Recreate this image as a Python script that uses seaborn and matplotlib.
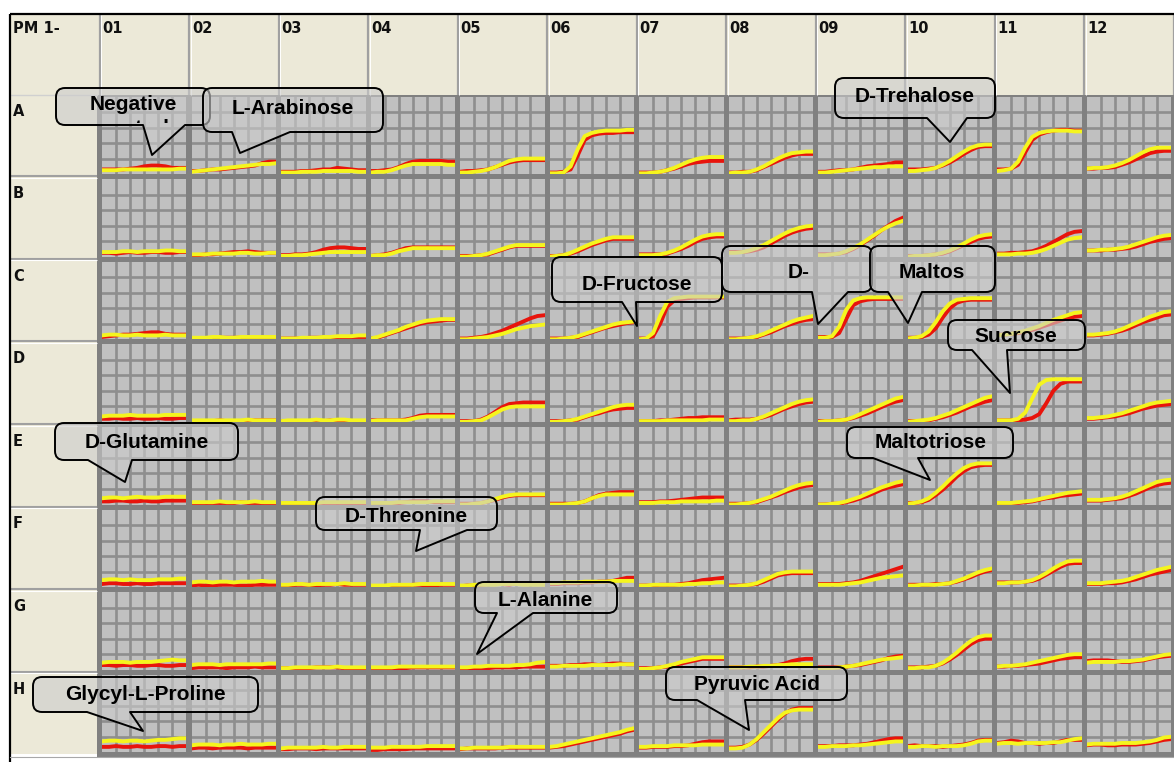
import matplotlib
matplotlib.use("Agg")
import matplotlib.pyplot as plt
import seaborn as sns
import pandas as pd
from matplotlib.path import Path
from matplotlib.patches import PathPatch, Rectangle

# ---------------- data ----------------
ROW_LABELS = list("ABCDEFGH")
COL_LABELS = ["01", "02", "03", "04", "05", "06", "07", "08", "09", "10", "11", "12"]
CORNER_LABEL = "PM 1-"
TIME = [0, 0.5, 1, 1.5, 2, 2.5, 3, 3.5, 4, 4.5, 5, 5.5, 6]

RED_A = [
    [0.30,0.30,0.30,0.30,0.35,0.40,0.50,0.55,0.55,0.50,0.40,0.40,0.40],
    [0.20,0.20,0.25,0.30,0.30,0.35,0.40,0.45,0.50,0.55,0.70,0.80,0.80],
    [0.15,0.15,0.15,0.20,0.20,0.25,0.30,0.30,0.40,0.35,0.30,0.25,0.25],
    [0.20,0.20,0.25,0.30,0.45,0.65,0.80,0.85,0.85,0.85,0.85,0.80,0.80],
    [0.15,0.20,0.20,0.25,0.30,0.45,0.60,0.75,0.85,0.90,0.90,0.90,0.90],
    [0.10,0.10,0.15,0.30,1.20,2.20,2.50,2.60,2.65,2.65,2.70,2.70,2.70],
    [0.10,0.10,0.10,0.15,0.25,0.35,0.50,0.65,0.75,0.80,0.85,0.85,0.85],
    [0.10,0.10,0.15,0.15,0.25,0.45,0.65,0.85,1.05,1.20,1.30,1.30,1.30],
    [0.15,0.15,0.20,0.25,0.25,0.30,0.40,0.50,0.55,0.60,0.65,0.75,0.75],
    [0.30,0.30,0.30,0.35,0.40,0.55,0.75,1.00,1.30,1.55,1.75,1.80,1.80],
    [0.30,0.30,0.35,0.60,1.40,2.20,2.55,2.70,2.80,2.85,2.85,2.80,2.80],
    [0.35,0.35,0.40,0.40,0.45,0.60,0.75,0.95,1.15,1.35,1.45,1.50,1.50],
]
YEL_A = [
    [0.25,0.25,0.25,0.30,0.30,0.30,0.30,0.30,0.30,0.30,0.30,0.35,0.35],
    [0.15,0.20,0.25,0.30,0.35,0.40,0.45,0.50,0.55,0.60,0.65,0.65,0.70],
    [0.10,0.10,0.10,0.15,0.15,0.15,0.20,0.20,0.20,0.20,0.20,0.15,0.15],
    [0.10,0.15,0.15,0.25,0.40,0.55,0.65,0.65,0.65,0.65,0.65,0.60,0.60],
    [0.10,0.10,0.15,0.20,0.30,0.45,0.65,0.85,0.95,1.00,1.00,1.00,1.00],
    [0.05,0.05,0.10,0.50,1.60,2.45,2.65,2.75,2.80,2.80,2.80,2.85,2.85],
    [0.05,0.05,0.10,0.15,0.25,0.40,0.60,0.80,0.95,1.05,1.10,1.10,1.10],
    [0.05,0.10,0.10,0.15,0.30,0.50,0.75,1.00,1.20,1.35,1.40,1.45,1.45],
    [0.10,0.10,0.15,0.20,0.25,0.30,0.35,0.40,0.45,0.45,0.50,0.50,0.50],
    [0.20,0.20,0.25,0.30,0.40,0.60,0.85,1.15,1.45,1.70,1.85,1.90,1.90],
    [0.20,0.25,0.35,0.80,1.70,2.40,2.65,2.75,2.80,2.80,2.80,2.75,2.75],
    [0.35,0.40,0.40,0.45,0.55,0.70,0.90,1.15,1.40,1.60,1.70,1.70,1.70],
]
RED_B = [
    [0.25,0.25,0.20,0.25,0.30,0.25,0.25,0.30,0.30,0.25,0.25,0.30,0.30],
    [0.10,0.10,0.15,0.15,0.20,0.25,0.30,0.30,0.35,0.30,0.25,0.25,0.25],
    [0.10,0.10,0.15,0.15,0.20,0.30,0.45,0.55,0.60,0.60,0.55,0.50,0.50],
    [0.05,0.10,0.15,0.25,0.40,0.55,0.60,0.60,0.60,0.60,0.60,0.60,0.60],
    [0.05,0.05,0.05,0.10,0.15,0.30,0.45,0.60,0.70,0.70,0.70,0.70,0.70],
    [0.05,0.05,0.10,0.20,0.35,0.55,0.75,0.90,1.05,1.15,1.15,1.15,1.15],
    [0.15,0.15,0.15,0.15,0.20,0.35,0.50,0.70,0.95,1.15,1.25,1.30,1.30],
    [0.30,0.30,0.30,0.35,0.45,0.60,0.85,1.10,1.35,1.55,1.70,1.80,1.85],
    [0.15,0.15,0.15,0.20,0.30,0.50,0.75,1.05,1.35,1.70,2.00,2.30,2.50],
    [0.05,0.05,0.05,0.10,0.15,0.20,0.35,0.55,0.75,0.95,1.15,1.25,1.30],
    [0.20,0.20,0.25,0.25,0.30,0.35,0.50,0.70,0.95,1.20,1.45,1.60,1.65],
    [0.40,0.40,0.40,0.45,0.45,0.50,0.55,0.65,0.80,0.95,1.05,1.15,1.20],
]
YEL_B = [
    [0.30,0.30,0.30,0.35,0.35,0.30,0.35,0.35,0.35,0.40,0.40,0.35,0.35],
    [0.15,0.15,0.15,0.20,0.20,0.20,0.20,0.25,0.25,0.20,0.20,0.25,0.25],
    [0.05,0.05,0.10,0.10,0.15,0.20,0.25,0.30,0.30,0.30,0.30,0.30,0.30],
    [0.05,0.10,0.10,0.20,0.35,0.45,0.55,0.55,0.55,0.55,0.55,0.55,0.55],
    [0.00,0.00,0.05,0.10,0.20,0.35,0.50,0.65,0.75,0.75,0.75,0.75,0.75],
    [0.00,0.05,0.10,0.25,0.45,0.65,0.85,1.00,1.15,1.25,1.25,1.25,1.25],
    [0.10,0.10,0.10,0.15,0.25,0.40,0.60,0.85,1.10,1.30,1.40,1.45,1.45],
    [0.25,0.25,0.30,0.40,0.55,0.75,1.00,1.25,1.50,1.70,1.85,1.95,2.00],
    [0.10,0.10,0.15,0.20,0.35,0.55,0.80,1.10,1.40,1.70,1.95,2.15,2.30],
    [0.00,0.05,0.05,0.10,0.15,0.25,0.40,0.60,0.85,1.10,1.30,1.40,1.45],
    [0.15,0.15,0.15,0.20,0.20,0.25,0.35,0.50,0.70,0.90,1.10,1.20,1.25],
    [0.40,0.40,0.45,0.45,0.50,0.55,0.65,0.80,0.95,1.10,1.25,1.35,1.40],
]
RED_C = [
    [0.15,0.20,0.25,0.30,0.30,0.35,0.40,0.45,0.45,0.35,0.30,0.30,0.30],
    [0.05,0.05,0.05,0.05,0.10,0.10,0.10,0.10,0.05,0.05,0.10,0.10,0.10],
    [0.05,0.05,0.05,0.05,0.10,0.10,0.10,0.10,0.15,0.15,0.15,0.15,0.15],
    [0.05,0.10,0.25,0.40,0.55,0.70,0.85,1.00,1.10,1.15,1.20,1.25,1.25],
    [0.05,0.05,0.10,0.15,0.25,0.40,0.55,0.75,0.95,1.15,1.35,1.50,1.55],
    [0.05,0.05,0.05,0.10,0.15,0.30,0.45,0.60,0.75,0.85,0.95,1.05,1.10],
    [0.05,0.05,0.20,1.00,2.10,2.50,2.60,2.65,2.70,2.70,2.70,2.70,2.70],
    [0.05,0.05,0.05,0.10,0.15,0.30,0.45,0.65,0.85,1.00,1.15,1.25,1.30],
    [0.15,0.15,0.15,0.40,1.30,2.20,2.45,2.55,2.60,2.60,2.60,2.60,2.60],
    [0.10,0.10,0.15,0.30,0.70,1.40,2.00,2.35,2.50,2.55,2.55,2.55,2.55],
    [0.30,0.30,0.35,0.40,0.50,0.60,0.75,0.90,1.05,1.20,1.35,1.45,1.50],
    [0.25,0.25,0.30,0.35,0.45,0.55,0.70,0.90,1.10,1.25,1.40,1.55,1.60],
]
YEL_C = [
    [0.25,0.30,0.30,0.25,0.25,0.30,0.25,0.25,0.25,0.30,0.25,0.25,0.25],
    [0.10,0.10,0.10,0.15,0.15,0.10,0.10,0.15,0.15,0.15,0.15,0.15,0.15],
    [0.05,0.05,0.05,0.10,0.10,0.10,0.15,0.15,0.20,0.20,0.20,0.25,0.25],
    [0.05,0.15,0.30,0.45,0.60,0.80,0.95,1.10,1.20,1.25,1.30,1.30,1.30],
    [0.00,0.00,0.05,0.10,0.15,0.25,0.35,0.50,0.65,0.75,0.85,0.90,0.95],
    [0.00,0.00,0.05,0.10,0.20,0.35,0.50,0.65,0.80,0.95,1.05,1.10,1.15],
    [0.00,0.05,0.40,1.50,2.40,2.65,2.70,2.75,2.75,2.75,2.75,2.75,2.75],
    [0.00,0.00,0.05,0.10,0.20,0.35,0.55,0.75,0.95,1.15,1.30,1.40,1.50],
    [0.10,0.10,0.20,0.80,1.90,2.50,2.65,2.70,2.70,2.70,2.70,2.70,2.70],
    [0.05,0.10,0.20,0.50,1.10,1.80,2.30,2.55,2.60,2.65,2.65,2.65,2.65],
    [0.25,0.30,0.35,0.45,0.55,0.70,0.85,1.05,1.25,1.40,1.55,1.70,1.75],
    [0.30,0.30,0.35,0.40,0.50,0.65,0.85,1.05,1.25,1.45,1.60,1.75,1.80],
]
RED_D = [
    [0.20,0.20,0.25,0.20,0.20,0.25,0.20,0.20,0.25,0.20,0.20,0.25,0.25],
    [0.05,0.05,0.05,0.05,0.10,0.05,0.05,0.05,0.10,0.10,0.10,0.10,0.10],
    [0.05,0.05,0.05,0.05,0.05,0.05,0.05,0.10,0.05,0.05,0.05,0.05,0.05],
    [0.10,0.10,0.10,0.10,0.10,0.15,0.25,0.40,0.45,0.45,0.45,0.45,0.45],
    [0.05,0.05,0.05,0.15,0.35,0.65,0.95,1.15,1.20,1.25,1.25,1.25,1.25],
    [0.05,0.05,0.05,0.10,0.15,0.30,0.45,0.55,0.70,0.80,0.85,0.90,0.90],
    [0.05,0.05,0.05,0.10,0.10,0.15,0.20,0.25,0.25,0.30,0.30,0.30,0.30],
    [0.10,0.15,0.15,0.15,0.20,0.30,0.45,0.65,0.85,1.00,1.15,1.25,1.30],
    [0.05,0.05,0.05,0.10,0.15,0.25,0.40,0.55,0.75,0.95,1.15,1.30,1.40],
    [0.05,0.05,0.05,0.10,0.20,0.30,0.45,0.60,0.80,1.00,1.15,1.30,1.40],
    [0.10,0.10,0.10,0.10,0.15,0.25,0.50,1.20,2.00,2.45,2.60,2.60,2.60],
    [0.20,0.20,0.25,0.30,0.35,0.45,0.55,0.70,0.85,0.95,1.05,1.10,1.15],
]
YEL_D = [
    [0.35,0.40,0.40,0.40,0.45,0.40,0.40,0.40,0.40,0.45,0.45,0.45,0.45],
    [0.10,0.10,0.10,0.10,0.10,0.10,0.10,0.10,0.15,0.10,0.10,0.10,0.10],
    [0.05,0.10,0.10,0.10,0.10,0.15,0.10,0.10,0.15,0.15,0.10,0.10,0.10],
    [0.05,0.10,0.10,0.10,0.10,0.10,0.20,0.30,0.35,0.35,0.35,0.35,0.35],
    [0.00,0.00,0.05,0.10,0.30,0.55,0.80,0.95,1.00,1.00,1.00,1.00,1.00],
    [0.00,0.00,0.05,0.10,0.20,0.35,0.50,0.65,0.80,0.95,1.05,1.10,1.10],
    [0.05,0.05,0.05,0.05,0.10,0.10,0.10,0.10,0.10,0.10,0.15,0.15,0.15],
    [0.05,0.05,0.10,0.10,0.20,0.35,0.55,0.75,0.95,1.15,1.30,1.40,1.45],
    [0.00,0.05,0.05,0.10,0.15,0.30,0.50,0.70,0.90,1.10,1.30,1.50,1.60],
    [0.00,0.05,0.10,0.15,0.25,0.40,0.55,0.75,0.95,1.15,1.35,1.55,1.65],
    [0.10,0.10,0.10,0.20,0.60,1.50,2.40,2.70,2.75,2.75,2.75,2.75,2.75],
    [0.25,0.25,0.30,0.35,0.45,0.55,0.70,0.85,1.00,1.15,1.25,1.30,1.35],
]
RED_E = [
    [0.20,0.20,0.25,0.25,0.20,0.20,0.25,0.20,0.20,0.25,0.25,0.25,0.25],
    [0.10,0.10,0.10,0.10,0.10,0.10,0.10,0.15,0.10,0.10,0.10,0.10,0.10],
    [0.05,0.05,0.05,0.05,0.05,0.10,0.10,0.10,0.10,0.10,0.10,0.10,0.10],
    [0.05,0.05,0.10,0.10,0.10,0.15,0.20,0.20,0.20,0.15,0.15,0.15,0.15],
    [0.05,0.05,0.05,0.10,0.20,0.30,0.45,0.55,0.60,0.60,0.60,0.60,0.60],
    [0.05,0.05,0.05,0.05,0.10,0.20,0.40,0.60,0.70,0.75,0.80,0.80,0.80],
    [0.15,0.15,0.15,0.20,0.20,0.25,0.30,0.35,0.40,0.45,0.45,0.45,0.45],
    [0.05,0.05,0.05,0.10,0.15,0.30,0.45,0.60,0.80,0.95,1.10,1.20,1.25],
    [0.00,0.00,0.05,0.05,0.15,0.25,0.40,0.55,0.75,0.95,1.10,1.20,1.30],
    [0.10,0.10,0.15,0.30,0.60,0.95,1.35,1.80,2.15,2.40,2.50,2.55,2.55],
    [0.05,0.05,0.10,0.10,0.15,0.20,0.30,0.40,0.45,0.55,0.60,0.65,0.70],
    [0.25,0.25,0.25,0.30,0.35,0.40,0.55,0.70,0.90,1.10,1.25,1.35,1.40],
]
YEL_E = [
    [0.40,0.45,0.45,0.40,0.45,0.50,0.45,0.45,0.45,0.50,0.50,0.50,0.50],
    [0.15,0.15,0.15,0.15,0.20,0.15,0.15,0.15,0.15,0.20,0.15,0.15,0.15],
    [0.10,0.10,0.10,0.10,0.10,0.10,0.15,0.15,0.15,0.15,0.15,0.15,0.15],
    [0.10,0.10,0.10,0.10,0.15,0.15,0.15,0.15,0.15,0.20,0.20,0.20,0.20],
    [0.00,0.00,0.05,0.10,0.20,0.35,0.50,0.60,0.65,0.65,0.65,0.65,0.65],
    [0.00,0.00,0.00,0.05,0.10,0.20,0.40,0.55,0.65,0.65,0.65,0.65,0.65],
    [0.10,0.10,0.10,0.15,0.15,0.15,0.20,0.20,0.20,0.20,0.20,0.25,0.25],
    [0.00,0.00,0.05,0.10,0.20,0.35,0.50,0.70,0.90,1.10,1.25,1.35,1.40],
    [0.00,0.00,0.05,0.10,0.20,0.35,0.50,0.70,0.90,1.10,1.25,1.40,1.50],
    [0.05,0.10,0.20,0.40,0.75,1.15,1.60,2.00,2.35,2.55,2.65,2.65,2.65],
    [0.10,0.10,0.10,0.15,0.20,0.25,0.35,0.45,0.55,0.65,0.75,0.80,0.85],
    [0.30,0.30,0.30,0.35,0.40,0.50,0.65,0.85,1.05,1.25,1.45,1.55,1.60],
]
RED_F = [
    [0.20,0.25,0.25,0.20,0.20,0.25,0.20,0.20,0.25,0.25,0.25,0.25,0.25],
    [0.10,0.15,0.10,0.10,0.15,0.15,0.15,0.10,0.10,0.15,0.15,0.15,0.15],
    [0.10,0.10,0.15,0.15,0.15,0.10,0.15,0.15,0.20,0.15,0.15,0.15,0.15],
    [0.05,0.05,0.05,0.10,0.10,0.10,0.15,0.15,0.10,0.10,0.15,0.15,0.15],
    [0.05,0.10,0.10,0.15,0.20,0.25,0.20,0.15,0.25,0.25,0.20,0.20,0.20],
    [0.20,0.20,0.25,0.25,0.25,0.30,0.30,0.35,0.35,0.40,0.50,0.60,0.60],
    [0.10,0.10,0.10,0.15,0.15,0.15,0.20,0.25,0.35,0.45,0.50,0.55,0.60],
    [0.10,0.10,0.10,0.15,0.20,0.35,0.55,0.75,0.85,0.90,0.90,0.90,0.90],
    [0.20,0.20,0.20,0.20,0.25,0.30,0.40,0.55,0.70,0.85,1.00,1.15,1.30],
    [0.15,0.15,0.15,0.15,0.20,0.20,0.25,0.35,0.50,0.65,0.85,1.00,1.10],
    [0.30,0.30,0.30,0.30,0.35,0.40,0.55,0.80,1.05,1.30,1.50,1.55,1.55],
    [0.20,0.20,0.20,0.25,0.25,0.30,0.40,0.50,0.65,0.80,0.90,1.00,1.10],
]
YEL_F = [
    [0.45,0.50,0.50,0.45,0.50,0.45,0.45,0.45,0.50,0.50,0.50,0.55,0.55],
    [0.30,0.35,0.35,0.30,0.35,0.35,0.30,0.35,0.35,0.35,0.40,0.35,0.35],
    [0.15,0.15,0.20,0.20,0.15,0.20,0.20,0.20,0.20,0.25,0.20,0.20,0.20],
    [0.10,0.10,0.10,0.15,0.15,0.15,0.15,0.20,0.20,0.20,0.20,0.20,0.20],
    [0.10,0.10,0.15,0.15,0.15,0.15,0.20,0.20,0.20,0.15,0.15,0.15,0.15],
    [0.25,0.25,0.30,0.30,0.30,0.35,0.35,0.35,0.35,0.40,0.40,0.40,0.40],
    [0.10,0.10,0.15,0.15,0.15,0.15,0.15,0.20,0.20,0.25,0.25,0.30,0.30],
    [0.05,0.05,0.10,0.15,0.25,0.45,0.65,0.85,0.95,1.00,1.00,1.00,1.00],
    [0.15,0.15,0.15,0.15,0.20,0.25,0.30,0.40,0.50,0.60,0.65,0.70,0.75],
    [0.10,0.10,0.15,0.15,0.15,0.20,0.25,0.40,0.55,0.75,0.95,1.10,1.20],
    [0.25,0.25,0.30,0.30,0.35,0.45,0.65,0.90,1.20,1.45,1.65,1.70,1.70],
    [0.25,0.25,0.25,0.30,0.35,0.40,0.50,0.65,0.80,0.95,1.10,1.20,1.30],
]
RED_G = [
    [0.30,0.30,0.25,0.30,0.30,0.25,0.25,0.30,0.30,0.25,0.25,0.30,0.30],
    [0.10,0.15,0.15,0.15,0.15,0.10,0.15,0.15,0.15,0.20,0.15,0.15,0.15],
    [0.10,0.10,0.10,0.10,0.10,0.15,0.15,0.15,0.15,0.10,0.10,0.10,0.10],
    [0.10,0.10,0.10,0.10,0.10,0.10,0.15,0.15,0.15,0.15,0.15,0.15,0.15],
    [0.05,0.05,0.10,0.10,0.10,0.15,0.15,0.15,0.15,0.20,0.20,0.20,0.20],
    [0.25,0.25,0.25,0.30,0.30,0.35,0.35,0.30,0.35,0.40,0.40,0.35,0.35],
    [0.10,0.10,0.10,0.15,0.20,0.30,0.40,0.50,0.60,0.70,0.70,0.70,0.70],
    [0.15,0.15,0.15,0.15,0.20,0.20,0.25,0.30,0.40,0.55,0.65,0.70,0.70],
    [0.15,0.15,0.15,0.15,0.20,0.25,0.30,0.40,0.50,0.60,0.75,0.85,0.90],
    [0.15,0.15,0.15,0.20,0.25,0.40,0.65,0.95,1.30,1.65,1.90,2.00,2.00],
    [0.20,0.20,0.25,0.25,0.30,0.35,0.40,0.50,0.60,0.70,0.75,0.80,0.80],
    [0.55,0.60,0.60,0.60,0.55,0.50,0.50,0.55,0.60,0.70,0.80,0.85,0.90],
]
YEL_G = [
    [0.45,0.50,0.50,0.50,0.45,0.50,0.50,0.50,0.55,0.60,0.65,0.60,0.60],
    [0.30,0.35,0.35,0.35,0.30,0.35,0.35,0.35,0.35,0.35,0.35,0.40,0.40],
    [0.10,0.10,0.15,0.15,0.15,0.15,0.15,0.15,0.20,0.15,0.15,0.15,0.15],
    [0.15,0.15,0.15,0.15,0.20,0.20,0.20,0.20,0.20,0.20,0.20,0.20,0.20],
    [0.15,0.15,0.20,0.20,0.25,0.25,0.25,0.25,0.30,0.30,0.35,0.45,0.50],
    [0.20,0.20,0.25,0.25,0.25,0.25,0.30,0.30,0.30,0.30,0.35,0.35,0.35],
    [0.05,0.05,0.10,0.15,0.25,0.35,0.50,0.60,0.70,0.80,0.80,0.80,0.80],
    [0.15,0.15,0.15,0.20,0.20,0.25,0.25,0.30,0.30,0.35,0.35,0.35,0.35],
    [0.10,0.10,0.10,0.15,0.20,0.25,0.35,0.45,0.55,0.65,0.70,0.75,0.80],
    [0.10,0.10,0.15,0.15,0.25,0.45,0.75,1.10,1.50,1.85,2.10,2.20,2.20],
    [0.20,0.25,0.25,0.30,0.35,0.45,0.55,0.65,0.75,0.85,0.95,1.00,1.00],
    [0.45,0.50,0.50,0.50,0.50,0.55,0.55,0.60,0.65,0.75,0.85,0.95,1.00],
]
RED_H = [
    [0.35,0.35,0.40,0.35,0.35,0.40,0.35,0.35,0.40,0.40,0.35,0.40,0.40],
    [0.25,0.30,0.30,0.25,0.30,0.30,0.30,0.30,0.25,0.30,0.30,0.30,0.30],
    [0.20,0.20,0.25,0.25,0.25,0.20,0.25,0.25,0.25,0.25,0.25,0.25,0.25],
    [0.15,0.15,0.20,0.20,0.20,0.20,0.25,0.25,0.25,0.25,0.25,0.25,0.25],
    [0.20,0.25,0.25,0.25,0.25,0.25,0.30,0.30,0.30,0.30,0.30,0.30,0.30],
    [0.30,0.35,0.40,0.50,0.60,0.70,0.80,0.90,1.00,1.10,1.20,1.35,1.45],
    [0.30,0.30,0.35,0.35,0.35,0.40,0.40,0.45,0.55,0.65,0.70,0.70,0.70],
    [0.30,0.30,0.35,0.50,0.80,1.20,1.65,2.10,2.50,2.75,2.85,2.85,2.85],
    [0.40,0.40,0.40,0.45,0.45,0.45,0.50,0.55,0.65,0.75,0.85,0.90,0.90],
    [0.40,0.45,0.40,0.40,0.40,0.35,0.40,0.45,0.50,0.60,0.75,0.80,0.80],
    [0.60,0.65,0.75,0.70,0.60,0.60,0.55,0.60,0.60,0.70,0.80,0.80,0.80],
    [0.45,0.50,0.50,0.45,0.45,0.50,0.50,0.50,0.55,0.60,0.70,0.80,0.85],
]
YEL_H = [
    [0.70,0.75,0.75,0.70,0.75,0.75,0.70,0.75,0.80,0.80,0.85,0.90,0.90],
    [0.45,0.50,0.50,0.50,0.45,0.50,0.50,0.55,0.50,0.50,0.50,0.55,0.55],
    [0.25,0.30,0.30,0.30,0.30,0.30,0.35,0.30,0.30,0.35,0.35,0.35,0.35],
    [0.30,0.30,0.30,0.35,0.35,0.35,0.35,0.35,0.40,0.40,0.40,0.40,0.40],
    [0.25,0.25,0.30,0.30,0.30,0.30,0.30,0.35,0.35,0.35,0.35,0.35,0.35],
    [0.35,0.40,0.50,0.60,0.70,0.80,0.90,1.00,1.10,1.20,1.30,1.45,1.55],
    [0.35,0.35,0.40,0.40,0.40,0.45,0.45,0.45,0.45,0.50,0.50,0.50,0.50],
    [0.25,0.25,0.30,0.50,0.85,1.30,1.75,2.20,2.55,2.70,2.75,2.75,2.75],
    [0.35,0.35,0.40,0.40,0.40,0.45,0.45,0.50,0.55,0.60,0.65,0.70,0.70],
    [0.35,0.35,0.40,0.40,0.35,0.40,0.40,0.40,0.45,0.55,0.70,0.75,0.75],
    [0.55,0.60,0.60,0.55,0.60,0.60,0.60,0.60,0.65,0.65,0.75,0.85,0.90],
    [0.50,0.55,0.55,0.55,0.55,0.60,0.60,0.60,0.65,0.70,0.80,0.95,1.00],
]
RED = [RED_A, RED_B, RED_C, RED_D, RED_E, RED_F, RED_G, RED_H]
YEL = [YEL_A, YEL_B, YEL_C, YEL_D, YEL_E, YEL_F, YEL_G, YEL_H]

CALLOUT_TEXT = ["Negative", "L-Arabinose", "D-Trehalose", "D-Fructose", "D-", "Maltos",
                "Sucrose", "D-Glutamine", "Maltotriose", "D-Threonine", "L-Alanine",
                "Glycyl-L-Proline", "Pyruvic Acid"]
HIDDEN_SECOND_LINE = "control"

# ---------------- layout (pixels) ----------------
W, H = 1174, 762
COL0, COLW = 99.5, 89.5
ROW0, ROWH = 94.0, 82.6
BORD = 5.0
BEIGE = "#ece9d8"
WELL_BG = "#c0c0c0"
DARK = "#808080"
GRIDC = "#8e8e8e"
RED_COLOR = "#e8140c"
YEL_COLOR = "#f5f51e"

CALLOUT_BOX = [(56, 88, 210, 125), (203, 88, 383, 132), (835, 78, 995, 118),
               (552, 257, 722, 302), (722, 246, 872, 292), (870, 246, 995, 292),
               (948, 320, 1085, 350), (55, 423, 238, 460), (847, 427, 1013, 458),
               (316, 497, 497, 530), (475, 582, 617, 613), (33, 677, 258, 712),
               (666, 667, 847, 700)]
CALLOUT_TAIL = [(143, 185, 152, 155), (232, 290, 240, 153), (927, 967, 950, 142),
                (622, 636, 637, 326), (812, 848, 818, 324), (888, 922, 908, 323),
                (972, 1007, 1010, 393), (88, 132, 125, 482), (873, 918, 930, 480),
                (420, 467, 416, 551), (497, 533, 477, 654), (87, 130, 143, 731),
                (697, 745, 749, 730)]
CALLOUT_TXT_POS = [(133, 103), (293, 106), (915, 95), (637, 282), (799, 271), (932, 270),
                   (1016, 335), (147, 440), (931, 440), (406, 515), (545, 598),
                   (145, 693), (757, 683)]

fig = plt.figure(figsize=(W / 100, H / 100), dpi=100, facecolor="white")


def px_axes(x, y, w, h, z):
    return fig.add_axes([x / W, 1 - (y + h) / H, w / W, h / H], zorder=z)


# background: frame, headers, dark well area
bg = px_axes(0, 0, W, H, 0)
bg.set_xlim(0, W)
bg.set_ylim(H, 0)
bg.axis("off")
bg.add_patch(Rectangle((COL0 - 2.5, ROW0 + 0.5), W - COL0 + 2.5, 8 * ROWH + 2.0,
                       facecolor=DARK, edgecolor="none"))
bg.add_patch(Rectangle((10, 14), W - 10, ROW0 + 1 - 14, facecolor=BEIGE, edgecolor="none"))
bg.add_patch(Rectangle((10, ROW0 + 1), COL0 - 2.5 - 10, 8 * ROWH - 2, facecolor=BEIGE,
                       edgecolor="none"))
for c in range(13):
    x = COL0 + c * COLW
    bg.plot([x, x], [14, ROW0 + 1], color="#a0a0a0", lw=1.6, solid_capstyle="butt")
    bg.plot([x + 1.8, x + 1.8], [15, ROW0 + 1], color="white", lw=0.7, solid_capstyle="butt")
for r in range(1, 8):
    y = ROW0 + r * ROWH
    bg.plot([10, COL0 - 2.5], [y - 0.5, y - 0.5], color="#a0a0a0", lw=1.5, solid_capstyle="butt")
    bg.plot([10, COL0 - 2.5], [y + 1.2, y + 1.2], color="white", lw=0.8, solid_capstyle="butt")
bg.plot([10, COL0 - 2.5], [ROW0 + 0.5, ROW0 + 0.5], color="#d0d0d0", lw=1.0)
bg.plot([10, W], [14, 14], color="black", lw=1.6, solid_capstyle="butt")
bg.plot([10, 10], [14, H], color="black", lw=1.6, solid_capstyle="butt")
bg.plot([10, W], [ROW0 + 8 * ROWH + 2.5, ROW0 + 8 * ROWH + 2.5], color="#a8a8a8", lw=0.8)

hdr_font = dict(family="DejaVu Sans", fontsize=10.5, fontweight="bold", color="#101010",
                va="baseline", ha="left")
bg.text(13, 33, CORNER_LABEL, **hdr_font)
for c, lab in enumerate(COL_LABELS):
    bg.text(COL0 + c * COLW + 3, 33, lab, **hdr_font)
for r, lab in enumerate(ROW_LABELS):
    bg.text(13, ROW0 + r * ROWH + 21.5, lab, **hdr_font)

# wells
for r in range(8):
    for c in range(12):
        x = COL0 + c * COLW + BORD / 2
        y = ROW0 + r * ROWH + BORD / 2
        ax = px_axes(x, y, COLW - BORD, ROWH - BORD, 1)
        ax.set_facecolor(WELL_BG)
        df = pd.DataFrame({
            "t": TIME + TIME,
            "od": RED[r][c] + YEL[r][c],
            "curve": ["red"] * len(TIME) + ["yellow"] * len(TIME),
        })
        sns.lineplot(data=df, x="t", y="od", hue="curve", hue_order=["red", "yellow"],
                     palette={"red": RED_COLOR, "yellow": YEL_COLOR}, estimator=None,
                     linewidth=2.8, legend=False, ax=ax)
        ax.set_xlim(0, 6)
        ax.set_ylim(0, 5)
        ax.set_xticks([1, 2, 3, 4, 5])
        ax.set_yticks([1, 2, 3, 4])
        ax.tick_params(length=0, labelbottom=False, labelleft=False)
        ax.set_xlabel("")
        ax.set_ylabel("")
        ax.set_axisbelow(True)
        ax.grid(True, color=GRIDC, linewidth=1.9)
        for s in ax.spines.values():
            s.set_visible(False)

# callouts
ov = px_axes(0, 0, W, H, 10)
ov.set_xlim(0, W)
ov.set_ylim(H, 0)
ov.axis("off")
ov.patch.set_alpha(0)


def bubble(box, tail, rad=9):
    x0, y0, x1, y1 = box
    bx0, bx1, tx, ty = tail
    verts = [(x0 + rad, y0), (x1 - rad, y0), (x1, y0), (x1, y0 + rad), (x1, y1 - rad),
             (x1, y1), (x1 - rad, y1), (bx1, y1), (tx, ty), (bx0, y1), (x0 + rad, y1),
             (x0, y1), (x0, y1 - rad), (x0, y0 + rad), (x0, y0), (x0 + rad, y0),
             (x0 + rad, y0)]
    codes = [Path.MOVETO, Path.LINETO, Path.CURVE3, Path.CURVE3, Path.LINETO,
             Path.CURVE3, Path.CURVE3, Path.LINETO, Path.LINETO, Path.LINETO, Path.LINETO,
             Path.CURVE3, Path.CURVE3, Path.LINETO, Path.CURVE3, Path.CURVE3,
             Path.CLOSEPOLY]
    return Path(verts, codes)


for i, label in enumerate(CALLOUT_TEXT):
    box = CALLOUT_BOX[i]
    patch = PathPatch(bubble(box, CALLOUT_TAIL[i]), facecolor=(0.80, 0.80, 0.80, 0.6),
                      edgecolor="black", lw=1.4, joinstyle="round")
    ov.add_patch(patch)
    tx, ty = CALLOUT_TXT_POS[i]
    ov.text(tx, ty + 7.5, label, ha="center", va="baseline", fontsize=15,
            fontweight="bold", family="Liberation Sans", color="black")
    if label == "Negative":
        clip = Rectangle((box[0], box[1]), box[2] - box[0], box[3] - box[1] - 2,
                         transform=ov.transData, facecolor="none", edgecolor="none")
        t2 = ov.text(tx + 1, ty + 31.5, HIDDEN_SECOND_LINE, ha="center", va="baseline",
                     fontsize=15, fontweight="bold", family="Liberation Sans", color="black")
        t2.set_clip_path(clip)
        t2.set_clip_on(True)

fig.savefig("out.png", dpi=100, facecolor="white")
